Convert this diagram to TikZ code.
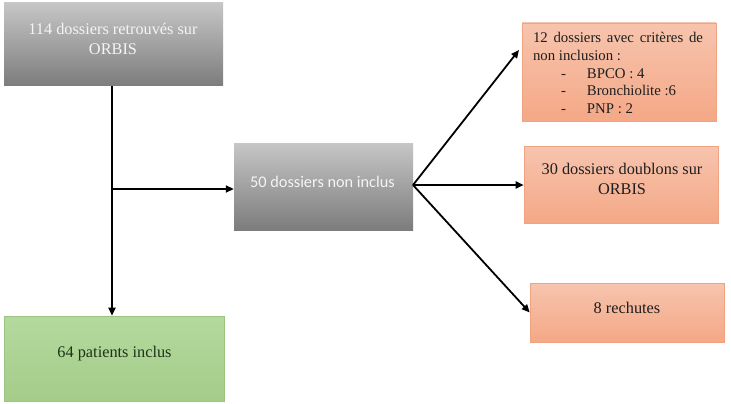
\documentclass[tikz,border=0pt]{standalone}
\usepackage{fontspec}
\setmainfont{Liberation Serif}
\newfontfamily\calibri{Carlito}
\usetikzlibrary{arrows.meta,calc}
\definecolor{gtop}{HTML}{C6C6C6}
\definecolor{gbot}{HTML}{7C7C7C}
\definecolor{stop}{HTML}{F7C4AE}
\definecolor{sbot}{HTML}{F4A886}
\definecolor{sbor}{HTML}{EFA383}
\definecolor{grtop}{HTML}{B4D99E}
\definecolor{grbot}{HTML}{A5CC89}
\definecolor{grbor}{HTML}{9CC480}
\definecolor{txtw}{HTML}{F4F4F4}
\definecolor{txtd}{HTML}{1E1E1E}
\tikzset{
  graybox/.style={inner sep=0pt, top color=gtop, bottom color=gbot, draw=none},
  salmonbox/.style={inner sep=0pt, top color=stop, bottom color=sbot, draw=sbor, line width=0.6pt},
  greenbox/.style={inner sep=0pt, top color=grtop, bottom color=grbot, draw=grbor, line width=0.6pt},
  wtext/.style={inner sep=0pt, text=txtw, align=center, font=\fontsize{16.3}{20}\selectfont},
  dtext/.style={inner sep=0pt, text=txtd, align=center, font=\fontsize{16.3}{20}\selectfont},
  conn/.style={line width=1.8pt, -{Triangle[length=8pt,width=7pt]}}
}
\newcommand{\listitem}[1]{\hspace*{28pt}-\hspace{21pt}#1}
\begin{document}
\begin{tikzpicture}[x=1pt,y=-1pt]
\useasboundingbox (0,0) rectangle (731,404);
\fill[white] (0,0) rectangle (731,404);
\node[graybox, minimum width=219pt, minimum height=83pt] (b1) at (113.5,44.5) {};
\node[wtext] (t1) at (113,39) {114 dossiers retrouvés sur\\ORBIS};
\node[graybox, minimum width=179pt, minimum height=87pt] (b2) at (323.5,186.5) {};
\node[wtext, font=\calibri\fontsize{16.3}{20}\selectfont] (t2) at (322.5,181.5) {50 dossiers non inclus};
\node[salmonbox, minimum width=194pt, minimum height=98pt] (b3) at (619,72) {};
\node[inner sep=0pt, text=txtd, font=\fontsize{14.8}{17.7}\selectfont, align=left] (t3) at (618,73) {\makebox[170pt][s]{12 dossiers avec critères de}\\non inclusion :\\\listitem{BPCO : 4}\\\listitem{Bronchiolite :6}\\\listitem{PNP : 2}};
\node[salmonbox, minimum width=194pt, minimum height=77pt] (b4) at (621,184.5) {};
\node[dtext] (t4) at (622,178.5) {30 dossiers doublons sur\\ORBIS};
\node[salmonbox, minimum width=194pt, minimum height=59pt] (b5) at (627,312.5) {};
\node[dtext] (t5) at (627,308) {8 rechutes};
\node[greenbox, minimum width=220pt, minimum height=85pt] (b6) at (114,358.5) {};
\node[dtext, text=txtd!90!green] (t6) at (114.5,354) {64 patients inclus};
\coordinate (j) at (112,189);
\coordinate (o) at (413,185);
\coordinate (e3) at (519,50);
\draw[conn] (b1.south -| j) -- (b6.north -| j);
\draw[conn] (j) -- (b2.west |- j);
\draw[conn] (o) -- (e3);
\draw[conn] (o) -- (b4.west |- o);
\draw[conn] (o) -- (b5.west);
\end{tikzpicture}
\end{document}
